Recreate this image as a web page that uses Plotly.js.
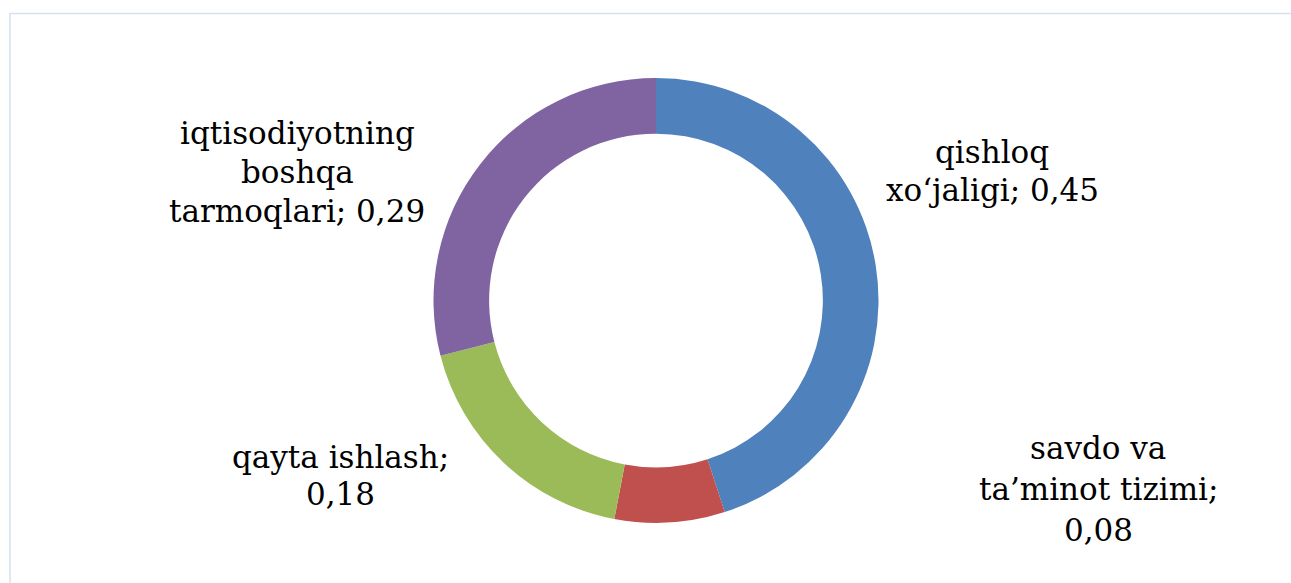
<!DOCTYPE html>
<html>
<head>
<meta charset="utf-8">
<script src="https://cdn.plot.ly/plotly-3.0.1.min.js"></script>
<style>html,body{margin:0;padding:0;background:#fff;}#chart{width:1291px;height:583px;}</style>
</head>
<body>
<div id="chart"></div>
<script>
// Data
const categories = ["qishloq xo‘jaligi", "savdo va ta’minot tizimi", "qayta ishlash", "iqtisodiyotning boshqa tarmoqlari"];
const values = [0.45, 0.08, 0.18, 0.29];
const labelLines = [
  ["qishloq", "xo‘jaligi; 0,45"],
  ["savdo va", "ta’minot tizimi;", "0,08"],
  ["qayta ishlash;", "0,18"],
  ["iqtisodiyotning", "boshqa", "tarmoqlari; 0,29"]
];
const colors = ["#4F81BD", "#C0504D", "#9BBB59", "#8064A2"];

// Layout helpers (pixel positions of label blocks)
const W = 1291, H = 583;
const labelPos = [[992, 171], [1098, 489], [340, 475], [297, 172]];
const lineGaps = [38, 41, 37, 39];
const labelFont = "DejaVu Serif";
const labelSize = 31;

const annotations = [];
labelLines.forEach((lines, i) => {
  const n = lines.length;
  lines.forEach((ln, k) => {
    const yPx = labelPos[i][1] + (k - (n - 1) / 2) * lineGaps[i];
    annotations.push({
      xref: "paper", yref: "paper",
      x: labelPos[i][0] / W, y: 1 - yPx / H,
      xanchor: "center", yanchor: "middle",
      text: ln, showarrow: false, align: "center",
      font: {family: labelFont, size: labelSize, color: "#000"}
    });
  });
});

const trace = {
  type: "pie",
  labels: categories,
  values: values,
  hole: 0.75,
  sort: false,
  direction: "clockwise",
  rotation: 0,
  textinfo: "none",
  hoverinfo: "label+value",
  marker: {colors: colors, line: {width: 0}},
  domain: {x: [433 / W, 879 / W], y: [1 - 523 / H, 1 - 78 / H]},
  showlegend: false
};

const layout = {
  width: W, height: H,
  margin: {l: 0, r: 0, t: 0, b: 0},
  paper_bgcolor: "#fff",
  showlegend: false,
  annotations: annotations,
  shapes: [{
    type: "rect", xref: "paper", yref: "paper",
    x0: 10 / W, x1: 1.02, y0: -0.02, y1: 1 - 13.5 / H,
    line: {color: "#D6E1EF", width: 1.5}, fillcolor: "rgba(0,0,0,0)"
  }]
};

Plotly.newPlot("chart", [trace], layout, {staticPlot: true});
</script>
</body>
</html>
